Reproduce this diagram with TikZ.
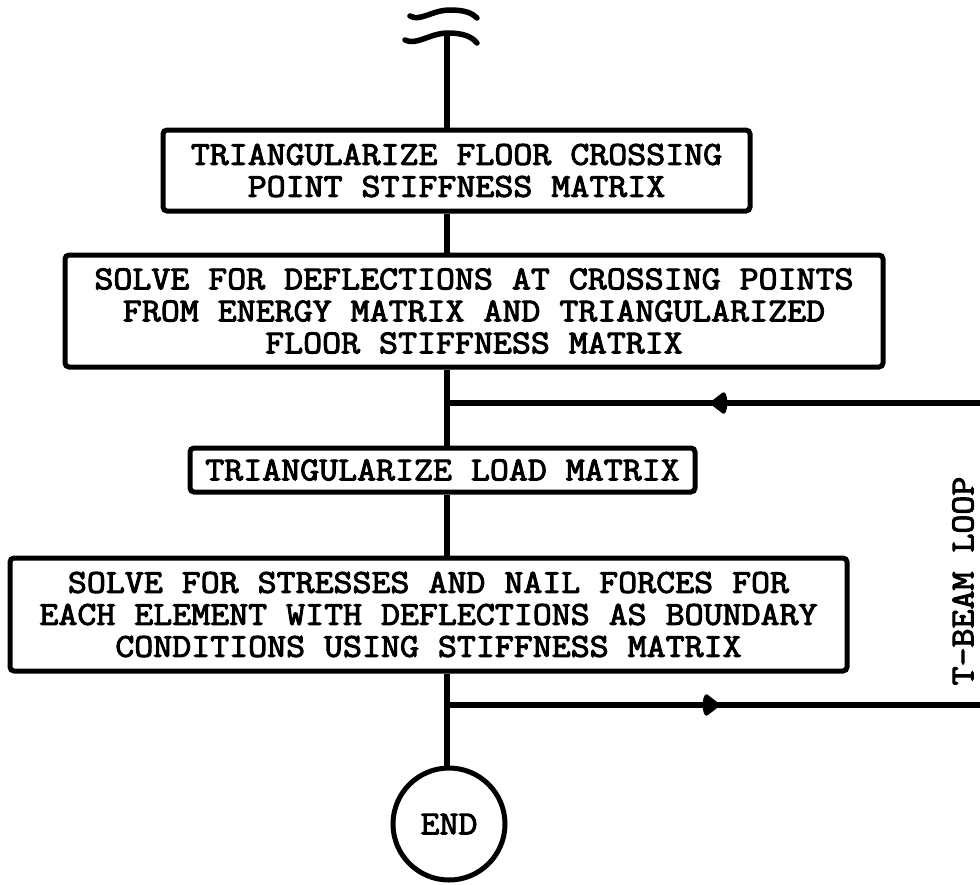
\documentclass[tikz,border=0pt]{standalone}
\usepackage{fontspec}
\newfontfamily\twb{Latin Modern Mono}[FakeBold=3,FakeStretch=1.1]
\usetikzlibrary{arrows.meta}
\begin{document}
\begin{tikzpicture}[x=1pt,y=-1pt,
  ln/.style={line width=5.5pt},
  tw/.style={font=\twb\fontsize{33.5}{32}\selectfont},
  box/.style={draw,line width=5pt,rounded corners=4pt,inner sep=0pt,align=center,tw},
  txt/.style={inner sep=0pt,tw},
  head/.style={fill,rounded corners=2pt}]
\useasboundingbox (0,0) rectangle (980,884);
% break symbol
\draw[ln,line cap=round] (410,16) .. controls (420,22) and (432,10) .. (450,10) .. controls (465,10) and (472,13) .. (477,18);
\draw[ln,line cap=round] (405,40) .. controls (416,46) and (430,33) .. (448,33) .. controls (464,33) and (472,37) .. (477,43);
\coordinate (top) at (447,34);
\node[box,minimum width=587pt,minimum height=81pt] (b1) at (456.5,170.5)
  {TRIANGULARIZE FLOOR CROSSING\\POINT STIFFNESS MATRIX};
\node[box,minimum width=818pt,minimum height=112pt] (b2) at (474,311)
  {SOLVE FOR DEFLECTIONS AT CROSSING POINTS\\FROM ENERGY MATRIX AND TRIANGULARIZED\\FLOOR STIFFNESS MATRIX};
\node[box,minimum width=505pt,minimum height=44pt] (b3) at (442.5,470)
  {TRIANGULARIZE LOAD MATRIX};
\node[box,minimum width=837pt,minimum height=113pt] (b4) at (428.5,614.5)
  {SOLVE FOR STRESSES AND NAIL FORCES FOR\\EACH ELEMENT WITH DEFLECTIONS AS BOUNDARY\\CONDITIONS USING STIFFNESS MATRIX};
\node[circle,draw,line width=5pt,minimum size=112pt,inner sep=0pt,tw] (end) at (449,824) {END};
\node[txt,rotate=90] (loop) at (963,581) {T-BEAM LOOP};
% connectors
\draw[ln] (top) -- (b1.north -| top);
\draw[ln] (b1.south -| top) -- (b2.north -| top);
\draw[ln] (b2.south -| top) -- (b3.north -| top);
\draw[ln] (b3.south -| top) -- (b4.north -| top);
\draw[ln] (b4.south -| top) -- (end.north -| top);
\coordinate (j1) at (447,403);
\coordinate (r1) at (981,403);
\coordinate (a1) at (709,403);
\draw[ln] (r1) -- (j1);
\path[head,shift={(a1)}] (0,0) -- (15,-11.5) .. controls (19,-6) and (19,6) .. (15,11.5) -- cycle;
\coordinate (j2) at (447,705);
\coordinate (r2) at (981,705);
\coordinate (a2) at (721,705);
\draw[ln] (j2) -- (r2);
\path[head,shift={(a2)}] (0,0) -- (-15,-11.5) .. controls (-19,-6) and (-19,6) .. (-15,11.5) -- cycle;
\end{tikzpicture}
\end{document}
